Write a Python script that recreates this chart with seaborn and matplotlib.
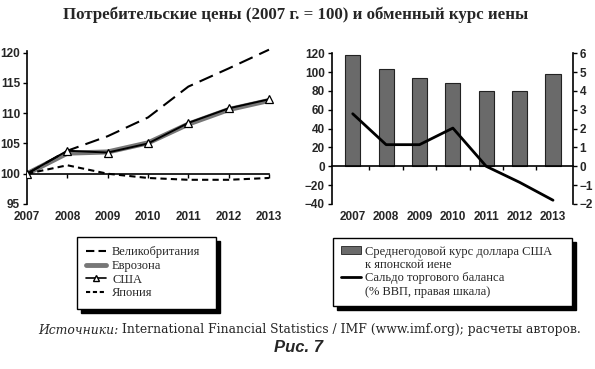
import numpy as np
import pandas as pd
import matplotlib
matplotlib.use("Agg")
import matplotlib.pyplot as plt
import seaborn as sns
from matplotlib.lines import Line2D
from matplotlib.patches import Patch

years = [2007, 2008, 2009, 2010, 2011, 2012, 2013]
uk = [100.0, 103.8, 106.2, 109.3, 114.4, 117.4, 120.5]
eurozone = [100.0, 103.4, 103.6, 105.1, 108.2, 110.6, 112.1]
usa = [100.0, 103.8, 103.5, 105.0, 108.4, 110.8, 112.3]
japan = [100.0, 101.4, 100.0, 99.3, 99.0, 99.0, 99.3]

usd_jpy = [118.0, 103.8, 94.0, 88.0, 80.0, 80.0, 98.0]
trade_balance = [2.79, 1.15, 1.15, 2.03, 0.0, -0.85, -1.8]

title = "Потребительские цены (2007 г. = 100) и обменный курс иены"
left_labels = ["Великобритания", "Еврозона", "США", "Япония"]
right_labels = ["Среднегодовой курс доллара США", "к японской иене",
                "Сальдо торгового баланса", "(% ВВП, правая шкала)"]
source_head = "Источники:"
source_body = " International Financial Statistics / IMF (www.imf.org); расчеты авторов."
fig_label = "Рис. 7"

sns.set_theme(style="white")
plt.rcParams["font.family"] = ["Liberation Sans", "DejaVu Sans"]

W, H = 595, 369
fig = plt.figure(figsize=(W / 100, H / 100), dpi=100)

def fx(px):
    return px / W

def fy(py):
    return 1 - py / H

tick_font = dict(fontsize=8.5, fontweight="bold")

# ---------- Left chart ----------
ylo, yhi = 95, 121
y_top_px = 204 - (yhi - 95) * (204 - 52.7) / 25
xlo, xhi = 2007, 2013.15
x_right_px = 27 + (xhi - 2007) * (269 - 27) / 6
axL = fig.add_axes([fx(27), fy(204), fx(x_right_px - 27), fy(y_top_px) - fy(204)])

dfL = pd.DataFrame({"year": years, "uk": uk, "ez": eurozone, "us": usa, "jp": japan})
sns.lineplot(data=dfL, x="year", y="ez", ax=axL, color="#777777", lw=3.6, zorder=2)
sns.lineplot(data=dfL, x="year", y="uk", ax=axL, color="black", lw=1.5, zorder=3)
axL.lines[-1].set_dashes([7, 3.5])
sns.lineplot(data=dfL, x="year", y="us", ax=axL, color="black", lw=1.4, marker="^",
             markersize=6, markerfacecolor="white", markeredgecolor="black",
             markeredgewidth=0.9, zorder=4)
sns.lineplot(data=dfL, x="year", y="jp", ax=axL, color="black", lw=1.5, zorder=3)
axL.lines[-1].set_dashes([3, 2])

axL.set_xlim(xlo, xhi)
axL.set_ylim(ylo, yhi)
axL.set_yticks([95, 100, 105, 110, 115, 120])
axL.set_xlabel("")
axL.set_ylabel("")
for s in ["top", "right"]:
    axL.spines[s].set_visible(False)
axL.spines["left"].set_color("black")
axL.spines["left"].set_linewidth(1.2)
axL.spines["left"].set_bounds(95, 120.2)
axL.spines["bottom"].set_position(("data", 100))
axL.spines["bottom"].set_bounds(years[0], years[-1])
axL.spines["bottom"].set_color("black")
axL.spines["bottom"].set_linewidth(1.2)
axL.set_xticks(years)
axL.tick_params(axis="x", which="both", direction="out", length=3, width=1,
                color="black", labelbottom=False, bottom=True)
axL.tick_params(axis="y", direction="out", length=3, width=1, color="black",
                left=True, pad=2, labelsize=8.5)
for t in axL.get_yticklabels():
    t.set_fontweight("bold")
secL = axL.secondary_xaxis(0)
secL.set_xticks(years)
secL.set_xticklabels([str(y) for y in years], **tick_font)
secL.tick_params(length=0, pad=5)
secL.spines["bottom"].set_visible(False)

# ---------- Right chart ----------
axR = fig.add_axes([fx(331.7), fy(204), fx(572.7 - 331.7), fy(53.3) - fy(204)])
dfR = pd.DataFrame({"year": years, "rate": usd_jpy, "bal": trade_balance})
sns.barplot(data=dfR, x="year", y="rate", ax=axR, native_scale=True, color="#6a6a6a",
            saturation=1, width=0.45, edgecolor="#222222", linewidth=0.8, zorder=2)
axR.set_xlim(2007 - 0.63, 2013 + 0.59)
axR.set_ylim(-40, 120)
axR.set_yticks([-40, -20, 0, 20, 40, 60, 80, 100, 120])
axR.set_yticklabels(["−40", "−20", "0", "20", "40", "60", "80", "100", "120"])
axR.set_xlabel("")
axR.set_ylabel("")
for s in ["top", "right"]:
    axR.spines[s].set_visible(False)
axR.spines["left"].set_color("black")
axR.spines["left"].set_linewidth(1.2)
axR.spines["bottom"].set_position(("data", 0))
axR.spines["bottom"].set_color("black")
axR.spines["bottom"].set_linewidth(1.2)
axR.set_xticks([y + 0.5 for y in years[:-1]])
axR.tick_params(axis="x", direction="out", length=3, width=1, color="black",
                labelbottom=False, bottom=True)
axR.tick_params(axis="y", direction="out", length=3, width=1, color="black",
                left=True, pad=2, labelsize=8.5)
for t in axR.get_yticklabels():
    t.set_fontweight("bold")
secR = axR.secondary_xaxis(0)
secR.set_xticks(years)
secR.set_xticklabels([str(y) for y in years], **tick_font)
secR.tick_params(length=0, pad=5)
secR.spines["bottom"].set_visible(False)

axR2 = axR.twinx()
sns.lineplot(data=dfR, x="year", y="bal", ax=axR2, color="black", lw=2.0, zorder=3)
axR2.set_ylim(-2, 6)
axR2.set_yticks(range(-2, 7))
axR2.set_yticklabels(["−2", "−1", "0", "1", "2", "3", "4", "5", "6"])
axR2.set_ylabel("")
for s in ["top", "left", "bottom"]:
    axR2.spines[s].set_visible(False)
axR2.spines["right"].set_color("black")
axR2.spines["right"].set_linewidth(1.2)
axR2.tick_params(axis="y", direction="out", length=3, width=1, color="black",
                 right=True, pad=2, labelsize=8.5)
for t in axR2.get_yticklabels():
    t.set_fontweight("bold")

# ---------- Legends ----------
serif = ["Liberation Serif", "DejaVu Serif"]
shadow = {"color": "black", "alpha": 1, "ox": 3, "oy": -3}
h_uk = Line2D([], [], color="black", lw=1.5, dashes=[4, 2])
h_ez = Line2D([], [], color="#777777", lw=3.5)
h_us = Line2D([], [], color="black", lw=1.2, marker="^", markersize=5,
              markerfacecolor="white", markeredgecolor="black")
h_jp = Line2D([], [], color="black", lw=1.5, dashes=[2, 1.3])
legL = fig.legend([h_uk, h_ez, h_us, h_jp], left_labels, loc="upper left",
                  bbox_to_anchor=(fx(77), fy(308), fx(216) - fx(77), fy(237) - fy(308)),
                  mode="expand", frameon=True, fancybox=False, shadow=shadow,
                  handlelength=1.6, handletextpad=0.45, borderpad=0.75,
                  labelspacing=0.13, prop={"family": serif, "size": 9},
                  borderaxespad=0)
legL.get_frame().set_edgecolor("black")
legL.get_frame().set_linewidth(1.0)

h_bar = Patch(facecolor="#6a6a6a", edgecolor="#222222", lw=0.6)
h_bal = Line2D([], [], color="black", lw=2.0)
h_none = Line2D([], [], color="none", lw=0)
legR = fig.legend([h_bar, h_none, h_bal, h_none], right_labels, loc="upper left",
                  bbox_to_anchor=(fx(333), fy(307), fx(572) - fx(333), fy(238) - fy(307)),
                  mode="expand", frameon=True, fancybox=False, shadow=shadow,
                  handlelength=1.65, handleheight=0.6, handletextpad=0.3,
                  borderpad=0.6, labelspacing=0.12, prop={"family": serif, "size": 9},
                  borderaxespad=0)
legR.get_frame().set_edgecolor("black")
legR.get_frame().set_linewidth(1.0)

# ---------- Texts ----------
def fit(txt, target_px):
    fig.canvas.draw()
    w = txt.get_window_extent().width
    txt.set_fontsize(txt.get_fontsize() * target_px / w)

t_title = fig.text(fx(296), fy(15), title, ha="center", va="center", fontsize=11,
                   fontweight="bold", family=serif)
fit(t_title, 465)

src_serif = ["DejaVu Serif", "Liberation Serif"]
src = fig.text(fx(38), fy(330), source_head, ha="left", va="center", fontsize=8.5,
               style="italic", family=src_serif)
fig.canvas.draw()
bb = src.get_window_extent()
body = fig.text(bb.x1 / W, fy(330), source_body, ha="left", va="center", fontsize=8.5,
                family=src_serif)
fig.canvas.draw()
total = body.get_window_extent().x1 - bb.x0
scale = (582 - 38) / total
src.set_fontsize(8.5 * scale)
fig.canvas.draw()
bb = src.get_window_extent()
body.set_fontsize(8.5 * scale)
body.set_x(bb.x1 / W)

fig.text(fx(299), fy(348), fig_label, ha="center", va="center", fontsize=12,
         fontweight="bold", style="italic", family=["Liberation Sans", "DejaVu Sans"])

fig.savefig("out.png", dpi=100)
